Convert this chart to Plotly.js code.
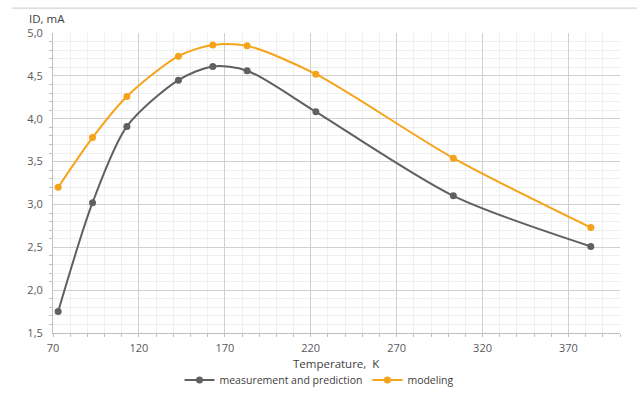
<!DOCTYPE html>
<html><head><meta charset="utf-8">
<script src="https://cdn.plot.ly/plotly-3.0.1.min.js"></script>
<style>html,body{margin:0;padding:0;background:#fff}#chart{width:639px;height:398px}</style>
</head><body><div id="chart"></div>
<script>
const temperature = [73, 93, 113, 143, 163, 183, 223, 303, 383];
const measurement = [1.75, 3.02, 3.91, 4.45, 4.61, 4.56, 4.08, 3.10, 2.51];
const modeling = [3.20, 3.78, 4.26, 4.73, 4.86, 4.85, 4.52, 3.54, 2.73];
const seriesNames = ['measurement and prediction', 'modeling'];
const xTicks = [70, 120, 170, 220, 270, 320, 370];
const xTitle = 'Temperature,  K';
const yTitle = 'ID, mA';

const font = {family: 'Open Sans, Liberation Sans, sans-serif', size: 11, color: '#595959'};
const traces = [
  {x: temperature, y: measurement, name: seriesNames[0], type: 'scatter', mode: 'lines+markers',
   line: {color: '#606060', width: 2, shape: 'spline', smoothing: 0.8}, marker: {color: '#606060', size: 7}},
  {x: temperature, y: modeling, name: seriesNames[1], type: 'scatter', mode: 'lines+markers',
   line: {color: '#f5a31a', width: 2, shape: 'spline', smoothing: 0.8}, marker: {color: '#f5a31a', size: 7}}
];
const layout = {
  width: 639, height: 398,
  margin: {l: 53, r: 19, t: 33, b: 65},
  paper_bgcolor: '#fff', plot_bgcolor: '#fff',
  font: font,
  separators: ',.',
  showlegend: true,
  legend: {orientation: 'h', x: 0.5, xanchor: 'center', xref: 'container', yref: 'container', y: 0.045, yanchor: 'middle',
    font: {size: 10.5, color: '#404040'}},
  xaxis: {range: [70, 400], tickvals: xTicks, ticks: '', showline: true, linecolor: '#bfbfbf', automargin: false,
    ticklabelstandoff: 5,
    gridcolor: '#d0d0d0', zeroline: false, tickfont: {size: 11, color: '#595959'},
    minor: {dtick: 10, tick0: 70, showgrid: true, gridcolor: '#efefef', ticks: 'outside', ticklen: 3, tickcolor: '#bfbfbf'}},
  yaxis: {range: [1.5, 5.0], dtick: 0.5, tick0: 1.5, tickformat: '.1f', ticks: '', showline: true, linecolor: '#bfbfbf', automargin: false,
    ticklabelstandoff: 7,
    gridcolor: '#d0d0d0', zeroline: false, tickfont: {size: 11, color: '#595959'},
    minor: {dtick: 0.1, showgrid: true, gridcolor: '#efefef', ticks: 'outside', ticklen: 3, tickcolor: '#bfbfbf'}},
  annotations: [
    {text: yTitle, xref: 'paper', yref: 'paper', x: -0.045, y: 1.0, xanchor: 'left', yanchor: 'bottom',
     yshift: 5, showarrow: false, font: {size: 11.5, color: '#404040'}},
    {text: xTitle, xref: 'paper', yref: 'paper', x: 0.5, y: 0, xanchor: 'center', yanchor: 'middle',
     yshift: -30, showarrow: false, font: {size: 11.5, color: '#404040'}}
  ],
  shapes: [{type: 'line', xref: 'paper', yref: 'paper', x0: -0.072, x1: 1.03, y0: 1.083, y1: 1.083, line: {color: '#c8c8c8', width: 1}}]
};
Plotly.newPlot('chart', traces, layout, {displayModeBar: false, staticPlot: true});
</script></body></html>
